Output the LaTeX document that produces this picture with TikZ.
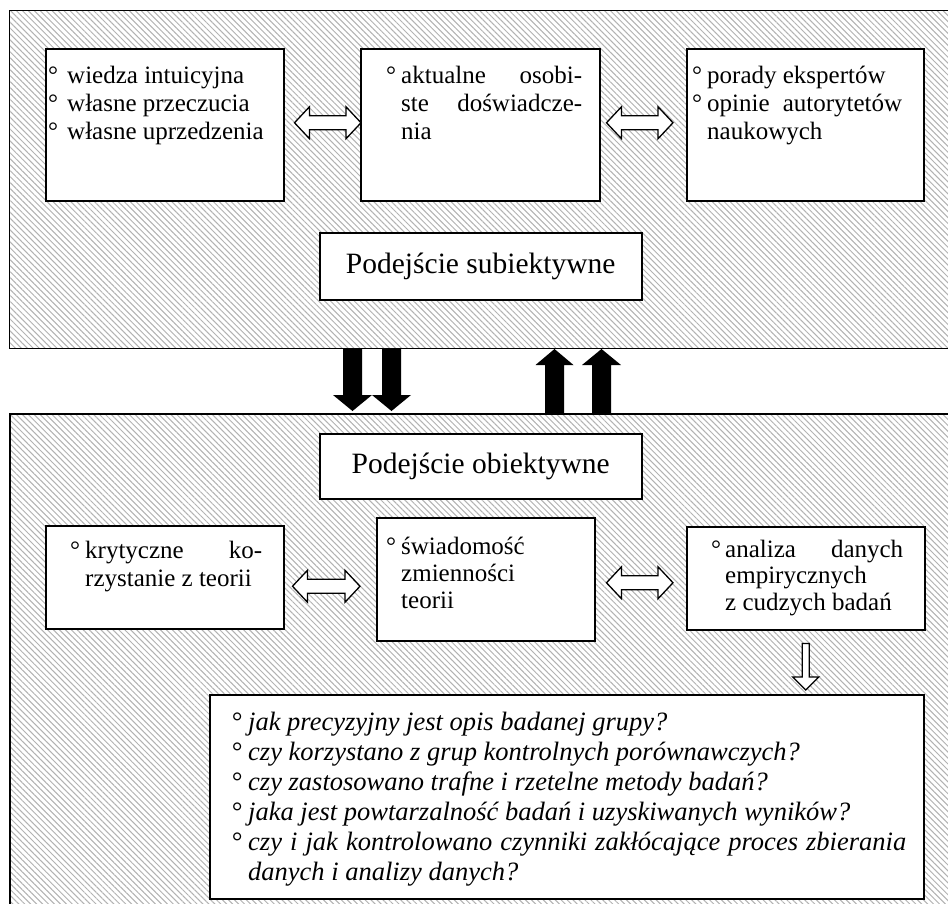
\documentclass[tikz,border=0pt]{standalone}
\usepackage{fontspec}
\setmainfont{Liberation Serif}
\usetikzlibrary{patterns.meta,calc}
\newlength\bulw
\newcommand\itm[1]{\par\noindent\hangindent=\bulw\hangafter=1\makebox[\bulw][l]{°}#1\par}
% horizontal hollow double arrow between two points (same y taken from the first)
\newcommand\harrow[2]{%
  \path[hollowarr] let \p1=#1, \p2=#2 in
   (\x1,\y1) -- ({\x1+15pt},{\y1+16pt}) -- ({\x1+15pt},{\y1+7pt}) -- ({\x2-15pt},{\y1+7pt})
   -- ({\x2-15pt},{\y1+16pt}) -- (\x2,\y1) -- ({\x2-15pt},{\y1-16pt}) -- ({\x2-15pt},{\y1-7pt})
   -- ({\x1+15pt},{\y1-7pt}) -- ({\x1+15pt},{\y1-16pt}) -- cycle;}
% vertical arrow: style, from, to, shaft half width, head half width, signed head length
\newcommand\varrow[6]{%
  \path[#1] let \p1=#2, \p2=#3 in
   ({\x1-#4pt},\y1) -- ({\x1-#4pt},{\y2+(#6pt)}) -- ({\x1-#5pt},{\y2+(#6pt)}) -- (\x1,\y2)
   -- ({\x1+#5pt},{\y2+(#6pt)}) -- ({\x1+#4pt},{\y2+(#6pt)}) -- ({\x1+#4pt},\y1) -- cycle;}
\begin{document}
\begin{tikzpicture}[x=1pt,y=-1pt,
  panel/.style={draw=black, line width=1.6pt, anchor=north west, inner sep=0,
    pattern={Lines[angle=-45,distance=4.2pt,line width=1pt]}, pattern color=gray!60},
  box/.style={draw=black, line width=1.5pt, fill=white, inner sep=0, anchor=north west},
  txt/.style={inner sep=0, anchor=base west, font=\fontsize{25}{28.3}\selectfont},
  qtxt/.style={inner sep=0, anchor=base west, font=\fontsize{26.5}{30}\selectfont\itshape},
  big/.style={font=\fontsize{29.5}{34}\selectfont},
  hollowarr/.style={draw=black, fill=white, line width=1.3pt, line join=miter},
  blackarr/.style={fill=black}]
\useasboundingbox (0,0) rectangle (948,903);
\clip (0,0) rectangle (948,903);
\fill[white] (0,0) rectangle (948,903);
% panels
\node[panel, minimum width=960, minimum height=338] (subj) at (9,10) {};
\node[panel, minimum width=960, minimum height=510] (obj) at (9,413) {};
% top boxes
\node[box, minimum width=238, minimum height=152] (s1) at (45,48) {};
\node[box, minimum width=239, minimum height=152] (s2) at (360,48) {};
\node[box, minimum width=237, minimum height=152] (s3) at (686,48) {};
\node[txt] at ([shift={(3,35)}]s1.north west)
  {\setlength\bulw{19pt}\hyphenpenalty=10000\parbox[t]{230pt}{%
   \itm{wiedza intuicyjna}\itm{własne przeczucia}\itm{własne uprzedzenia}}};
\node[txt] at ([shift={(26,35)}]s2.north west)
  {\setlength\bulw{15pt}\hyphenpenalty=10000\parbox[t]{196pt}{%
   \itm{aktualne osobi-\linebreak ste doświadcze-\linebreak nia}}};
\node[txt] at ([shift={(6,35)}]s3.north west)
  {\setlength\bulw{15pt}\hyphenpenalty=10000\parbox[t]{210pt}{%
   \itm{porady ekspertów}\itm{opinie autorytetów\linebreak naukowych}}};
\node[box, big, minimum width=322, minimum height=67] (ps) at (319,232) {Podejście subiektywne};
% arrows between panels
\varrow{blackarr}{(352.5,0 |- subj.south)}{(352.5,411)}{9.5}{19.5}{16}
\varrow{blackarr}{(391.5,0 |- subj.south)}{(391.5,411)}{9.5}{19.5}{16}
\varrow{blackarr}{(554.5,0 |- obj.north)}{(554.5,349)}{9.5}{19}{-16}
\varrow{blackarr}{(601.5,0 |- obj.north)}{(601.5,349)}{9.5}{19.5}{-16}
% bottom
\node[box, big, minimum width=322, minimum height=65] (po) at (319,433) {Podejście obiektywne};
\node[box, minimum width=238, minimum height=103] (o1) at (45,525) {};
\node[box, minimum width=218, minimum height=123] (o2) at (376,517) {};
\node[box, minimum width=238, minimum height=103] (o3) at (686,526) {};
\node[txt, font=\fontsize{25}{28.5}\selectfont] at ([shift={(25,33)}]o1.north west)
  {\setlength\bulw{15pt}\hyphenpenalty=10000\parbox[t]{192pt}{%
   \itm{krytyczne ko-\linebreak rzystanie z teorii}}};
\node[txt, font=\fontsize{25}{27}\selectfont] at ([shift={(10,37)}]o2.north west)
  {\setlength\bulw{15pt}\hyphenpenalty=10000\parbox[t]{200pt}{%
   \itm{świadomość\newline zmienności\newline teorii}}};
\node[txt, font=\fontsize{25}{26.5}\selectfont] at ([shift={(25,31)}]o3.north west)
  {\setlength\bulw{14pt}\hyphenpenalty=10000\parbox[t]{192pt}{%
   \itm{analiza danych\linebreak empirycznych\newline z cudzych badań}}};
\node[box, minimum width=714, minimum height=204] (q) at (209,694) {};
\node[qtxt] at ([shift={(22,36)}]q.north west)
  {\setlength\bulw{17pt}\hyphenpenalty=10000\parbox[t]{675pt}{%
   \itm{jak precyzyjny jest opis badanej grupy?}
   \itm{czy korzystano z grup kontrolnych porównawczych?}
   \itm{czy zastosowano trafne i rzetelne metody badań?}
   \itm{jaka jest powtarzalność badań i uzyskiwanych wyników?}
   \itm{czy i jak kontrolowano czynniki zakłócające proces zbierania\linebreak danych i analizy danych?}}};
% hollow double arrows
\harrow{([shift={(10,-2)}]s1.east)}{([shift={(1,-2)}]s2.west)}
\harrow{([shift={(6,-2)}]s2.east)}{([shift={(-13,-2)}]s3.west)}
\harrow{([shift={(8,9)}]o1.east)}{([shift={(-16,9)}]o2.west)}
\harrow{([shift={(11,3.5)}]o2.east)}{([shift={(-13,3.5)}]o3.west)}
% hollow down arrow
\varrow{hollowarr}{([yshift=-13pt]o3.south)}{([yshift=4pt]q.north)}{3.5}{13}{13}
\end{tikzpicture}
\end{document}
